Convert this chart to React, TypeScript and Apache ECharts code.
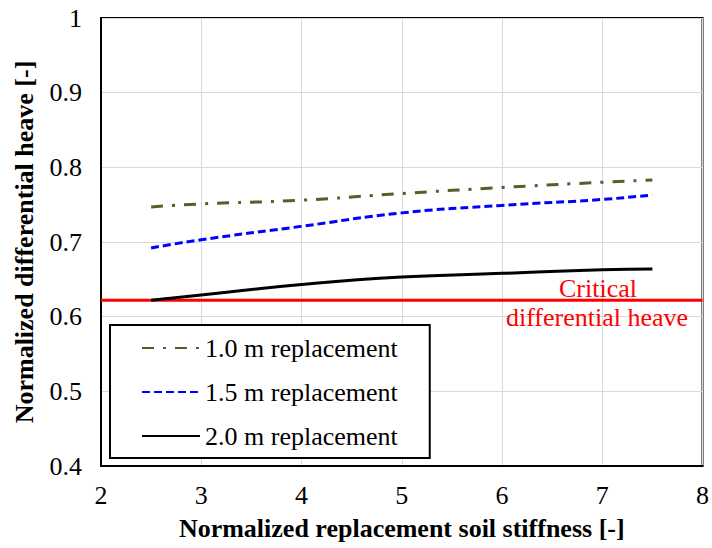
import React, { useEffect, useRef } from "react";
import * as echarts from "echarts";

const xValues = [2.5, 3, 4, 5, 6, 7, 7.5];
const series10 = [0.747, 0.751, 0.756, 0.765, 0.773, 0.78, 0.783];
const series15 = [0.692, 0.703, 0.721, 0.739, 0.749, 0.757, 0.763];
const series20 = [0.622, 0.629, 0.643, 0.653, 0.658, 0.663, 0.664];
const criticalHeave = 0.622;
const seriesNames = ["1.0 m replacement", "1.5 m replacement", "2.0 m replacement"];
const criticalLabel = ["Critical", "differential heave"];
const xTitle = "Normalized replacement soil stiffness [-]";
const yTitle = "Normalized differential heave [-]";

const FONT = "Liberation Serif";

export default function App() {
  const ref = useRef<HTMLDivElement>(null);
  useEffect(() => {
    document.body.style.margin = "0";
    const chart = echarts.init(ref.current!, null, { renderer: "svg" });
    const pts = (ys: number[]) => xValues.map((x, i) => [x, ys[i]]);
    chart.setOption({
      animation: false,
      backgroundColor: "#fff",
      textStyle: { fontFamily: FONT },
      grid: {
        left: 101,
        top: 18,
        right: 6,
        bottom: 82,
        show: true,
        borderColor: "#000",
        borderWidth: 2,
      },
      xAxis: {
        type: "value",
        min: 2,
        max: 8,
        interval: 1,
        name: xTitle,
        nameLocation: "middle",
        nameGap: 49,
        nameTextStyle: { fontFamily: FONT, fontSize: 26, fontWeight: "bold", color: "#000" },
        axisLine: { show: true, lineStyle: { color: "#000", width: 2 } },
        axisTick: { show: false },
        axisLabel: { fontFamily: FONT, fontSize: 26, color: "#000", margin: 16 },
        splitLine: { show: true, lineStyle: { color: "#d9d9d9", width: 1 } },
      },
      yAxis: {
        type: "value",
        min: 0.4,
        max: 1,
        interval: 0.1,
        name: yTitle,
        nameLocation: "middle",
        nameGap: 64,
        nameTextStyle: { fontFamily: FONT, fontSize: 26, fontWeight: "bold", color: "#000" },
        axisLine: { show: true, lineStyle: { color: "#000", width: 2 } },
        axisTick: { show: false },
        axisLabel: { fontFamily: FONT, fontSize: 26, color: "#000", margin: 19 },
        splitLine: { show: true, lineStyle: { color: "#d9d9d9", width: 1 } },
      },
      legend: {
        data: seriesNames,
        orient: "vertical",
        left: 110,
        top: 325,
        padding: [10, 32, 9, 31],
        itemWidth: 58,
        itemHeight: 20,
        itemGap: 18,
        borderColor: "#000",
        borderWidth: 2,
        backgroundColor: "#fff",
        itemStyle: { opacity: 0 },
        textStyle: { fontFamily: FONT, fontSize: 26, color: "#000" },
      },
      series: [
        {
          name: "critical",
          type: "line",
          data: [[2, criticalHeave], [8, criticalHeave]],
          symbol: "none",
          lineStyle: { color: "#ff0000", width: 3 },
          z: 3,
        },
        {
          name: seriesNames[0],
          type: "line",
          data: pts(series10),
          smooth: true,
          symbol: "none",
          color: "#4f6228",
          lineStyle: { color: "#4f6228", width: 3, type: [12, 9, 3, 9] },
          z: 4,
        },
        {
          name: seriesNames[1],
          type: "line",
          data: pts(series15),
          smooth: true,
          symbol: "none",
          color: "#0000ff",
          lineStyle: { color: "#0000ff", width: 3, type: [8, 4] },
          z: 4,
        },
        {
          name: seriesNames[2],
          type: "line",
          data: pts(series20),
          smooth: true,
          symbol: "none",
          color: "#000",
          lineStyle: { color: "#000", width: 3 },
          z: 4,
        },
      ],
      graphic: [
        {
          type: "text",
          x: 598,
          y: 288,
          z: 10,
          style: {
            text: criticalLabel[0],
            fontFamily: FONT,
            fontSize: 26,
            fill: "#ff0000",
            textAlign: "center",
            textVerticalAlign: "middle",
          },
        },
        {
          type: "text",
          x: 597,
          y: 317,
          z: 10,
          style: {
            text: criticalLabel[1],
            fontFamily: FONT,
            fontSize: 26,
            fill: "#ff0000",
            textAlign: "center",
            textVerticalAlign: "middle",
          },
        },
      ],
    });
    return () => chart.dispose();
  }, []);
  return <div ref={ref} style={{ width: 712, height: 548 }} />;
}
